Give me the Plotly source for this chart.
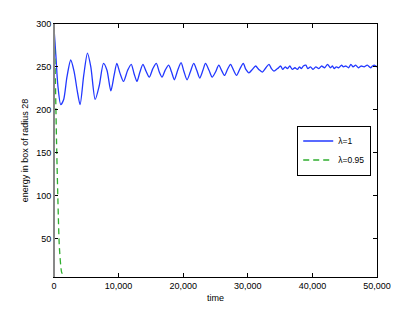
import plotly.graph_objects as go

# blue series (lambda = 1): read points (time, energy)
t_blue = [0, 300, 600, 1040, 1500, 2000, 2590, 3100, 3600, 4040, 4600, 5180, 5700, 6370,
          7000, 7660, 8200, 8800, 9300, 9730, 10200, 10760, 11400, 11960, 12400, 12840,
          13300, 13770, 14250, 14750, 15300, 15840, 16300, 16720, 17200, 17750, 18200,
          18630, 19150, 19670, 20100, 20600, 21100, 21630, 22100, 22560, 23050, 23450,
          24000, 24490, 25000, 25510, 26000, 26400, 26850, 27330, 27800, 28260, 28800,
          29300, 29700, 30170, 30700, 31210, 31700, 32250, 32800, 33280, 33650, 34050,
          34600, 35090, 35400, 35800, 36130, 36500, 36900, 37300, 37680, 38000, 38300,
          38600, 38980, 39300, 39700, 40100, 40530, 41000, 41400, 41900, 42340, 42800,
          43100, 43370, 43700, 44100, 44500, 44800, 45200, 45600, 45960, 46300, 46700,
          47100, 47520, 48000, 48500, 49000, 49300, 49580, 50000]
e_blue = [295, 262, 228, 206, 212, 238, 258, 245, 222, 206, 240, 266, 250, 212,
          228, 254, 246, 222, 240, 254, 243, 233, 246, 253, 242, 233,
          244, 253, 245, 238, 248, 254, 244, 238, 246, 252, 244,
          235, 246, 255, 245, 235, 244, 254, 246, 237, 246, 254,
          246, 238, 244, 252, 245, 240, 247, 253, 246, 240, 248,
          254, 247, 243, 247, 251, 247, 244, 249, 253, 248, 245,
          248, 251, 247, 250, 248, 251, 247, 249, 247, 250, 248,
          251, 252, 248, 250, 247, 250, 248, 251, 249, 253, 249,
          251, 248, 250, 249, 252, 250, 251, 249, 253, 250, 252,
          249, 251, 250, 252, 249, 251, 252, 250]

# green series (lambda = 0.95)
t_green = [0, 150, 420, 670, 830, 1200, 1450]
e_green = [295, 258, 153, 76, 40, 10, 8]

x_ticks = [0, 10000, 20000, 30000, 40000, 50000]
x_labels = ["0", "10,000", "20,000", "30,000", "40,000", "50,000"]
y_ticks = [50, 100, 150, 200, 250, 300]

FONT = "Liberation Sans, Arial, Helvetica"

fig = go.Figure()
fig.add_trace(go.Scatter(x=t_blue, y=e_blue, mode="lines", name="λ=1",
                         line=dict(color="#2238ff", width=1.3, shape="spline", smoothing=0.7)))
fig.add_trace(go.Scatter(x=t_green, y=e_green, mode="lines", name="λ=0.95",
                         line=dict(color="#2fae2f", width=1.3, dash="6px,4px", shape="spline", smoothing=0.6)))

axis_common = dict(showline=True, linecolor="black", linewidth=1, mirror="allticks",
                   ticks="inside", ticklen=4, tickcolor="black", showgrid=False,
                   zeroline=False, automargin=False,
                   tickfont=dict(family=FONT, size=9, color="black"))

fig.update_layout(
    width=407, height=304,
    margin=dict(l=46, r=38, t=16, b=35),
    paper_bgcolor="white", plot_bgcolor="white",
    showlegend=True,
    legend=dict(x=0.753, y=0.5, xanchor="left", yanchor="middle",
                bordercolor="black", borderwidth=1, bgcolor="white",
                font=dict(family=FONT, size=8.5, color="black"),
                tracegroupgap=0, itemwidth=30),
    xaxis=dict(range=[0, 50000], tickvals=x_ticks, ticktext=x_labels,
               title=dict(text="time", standoff=4,
                          font=dict(family=FONT, size=9, color="black")),
               **axis_common),
    yaxis=dict(range=[5, 300], tickvals=y_ticks,
               title=dict(text="energy in box of radius 28", standoff=6,
                          font=dict(family=FONT, size=9, color="black")),
               **axis_common),
    shapes=[dict(type="line", xref="paper", yref="paper", x0=0, x1=0, y0=0, y1=1,
                 line=dict(color="#888888", width=2))],
)

fig.write_html("out.html")
